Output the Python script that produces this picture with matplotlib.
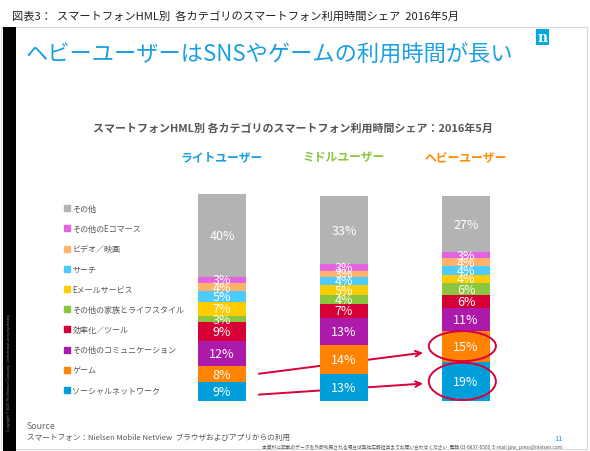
import matplotlib
matplotlib.use("Agg")
import matplotlib.pyplot as plt
from matplotlib.patches import Patch, Ellipse, Rectangle

plt.rcParams['font.family'] = ['Noto Sans CJK JP', 'DejaVu Sans']

# data (bottom -> top of each stacked bar)
categories = ['ソーシャルネットワーク', 'ゲーム', 'その他のコミュニケーション', '効率化／ツール',
              'その他の家族とライフスタイル', 'Eメールサービス', 'サーチ', 'ビデオ／映画',
              'その他のEコマース', 'その他']
groups = ['ライトユーザー', 'ミドルユーザー', 'ヘビーユーザー']
light = [9, 8, 12, 9, 3, 7, 5, 4, 3, 40]
middle = [13, 14, 13, 7, 4, 5, 4, 3, 3, 33]
heavy = [19, 15, 11, 6, 6, 4, 4, 4, 3, 27]

colors = ['#009fdb', '#ff8200', '#ad1aab', '#d70036', '#8cc63f',
          '#ffcc00', '#4dcbff', '#ffb26b', '#e463e0', '#b3b3b6']
group_colors = ['#1a9fe0', '#8cc63f', '#ff8a00']
red = '#d7003a'

W, H = 590, 452
fig = plt.figure(figsize=(W / 100, H / 100), dpi=100)

def fx(x):
    return x / W

def fy(y):
    return 1 - y / H

# slide frame, black side bar, logo
fig.patches.append(Rectangle((fx(1), fy(450)), fx(586), 422 / H, transform=fig.transFigure,
                             fill=False, ec='#d9d9d9', lw=0.8))
fig.patches.append(Rectangle((fx(3), fy(452)), fx(13), 424 / H, transform=fig.transFigure,
                             fc='black', ec='none'))
fig.patches.append(Rectangle((fx(536), fy(46)), fx(13), 16 / H, transform=fig.transFigure,
                             fc='#00a9e0', ec='none'))
fig.text(fx(542.5), fy(38), 'n', color='white', fontsize=10, fontweight='bold',
         family='DejaVu Serif', ha='center', va='center')

fig.text(fx(12), fy(17), '図表3：  スマートフォンHML別  各カテゴリのスマートフォン利用時間シェア  2016年5月',
         fontsize=8.1, color='#222222', va='center')
fig.text(fx(26), fy(55), 'ヘビーユーザーはSNSやゲームの利用時間が長い', fontsize=16,
         color='#1a9fe0', va='center')
fig.text(fx(293), fy(129), 'スマートフォンHML別 各カテゴリのスマートフォン利用時間シェア：2016年5月',
         fontsize=7.9, fontweight='bold', color='#555555', ha='center', va='center')

fig.text(fx(9), fy(372), 'Copyright © 2016 The Nielsen Company. Confidential and proprietary.',
         fontsize=2.6, color='#8a8a8a', rotation=90, ha='center', va='center')
fig.text(fx(27), fy(427), 'Source', fontsize=6.3, color='#666666', va='center')
fig.text(fx(27), fy(438), 'スマートフォン：Nielsen Mobile NetView  ブラウザおよびアプリからの利用',
         fontsize=5.5, color='#555555', va='center')
fig.text(fx(559), fy(439), '11', fontsize=5.5, color='#1a9fe0', ha='center', va='center')
fig.text(fx(562), fy(447), '本資料に記載のデータを外部利用される場合は弊社広報担当までお問い合わせください  電話 03-6837-6500  E-mail jpw_press@nielsen.com',
         fontsize=3.45, color='#555555', ha='right', va='center')

# chart axes: bar centres at 222, 344, 466 px; 0..100 between y=402 and y=195
ax = fig.add_axes([fx(100), fy(402), fx(440), 207 / H])
ax.set_xlim((100 - 222) / 122, (540 - 222) / 122)
ax.set_ylim(0, 100)
ax.axis('off')

bw = 0.40
x = [0, 1, 2]
series = [light, middle, heavy]
bottoms = [0, 0, 0]
for i, cat in enumerate(categories):
    vals = [s[i] for s in series]
    ax.bar(x, vals, bw, bottom=bottoms, color=colors[i], label=cat, zorder=3)
    for j in range(3):
        ax.text(x[j], bottoms[j] + vals[j] / 2, f'{vals[j]}%', color='white',
                fontsize=9, ha='center', va='center', zorder=5)
    bottoms = [b + v for b, v in zip(bottoms, vals)]

# group headers at y=158 px
head_y = 100 + (195 - 158) / 2.07
for j, g in enumerate(groups):
    ax.text(x[j], head_y, g, color=group_colors[j], fontsize=8.5,
            fontweight='bold', ha='center', va='center')

# arrows from light user bar to heavy user bar (game, social)
def centre(vals, k):
    return sum(vals[:k]) + vals[k] / 2

for k, dy0, dy1 in [(1, 0, -3), (0, -1.5, -1)]:
    ax.annotate('', xy=(2 - 0.33, centre(heavy, k) + dy1),
                xytext=(bw / 2 + 0.08, centre(light, k) + dy0),
                arrowprops=dict(arrowstyle='->', color=red, lw=1.4, mutation_scale=10),
                zorder=2)

# highlight ellipses on heavy user bar
for k, h in [(1, 14.5), (0, 18)]:
    ax.add_patch(Ellipse((1.97, centre(heavy, k)), 0.55, h, fill=False, ec=red,
                         lw=1.4, zorder=6, clip_on=False))

handles = [Patch(color=c, label=l) for c, l in zip(colors, categories)][::-1]
fig.legend(handles=handles, loc='upper left', bbox_to_anchor=(fx(64), fy(205)),
           frameon=False, fontsize=5.8, labelcolor='#555555', handlelength=0.75,
           handleheight=0.75, handletextpad=0.3, labelspacing=1.39, borderpad=0,
           borderaxespad=0)

fig.savefig('out.png', dpi=100)
